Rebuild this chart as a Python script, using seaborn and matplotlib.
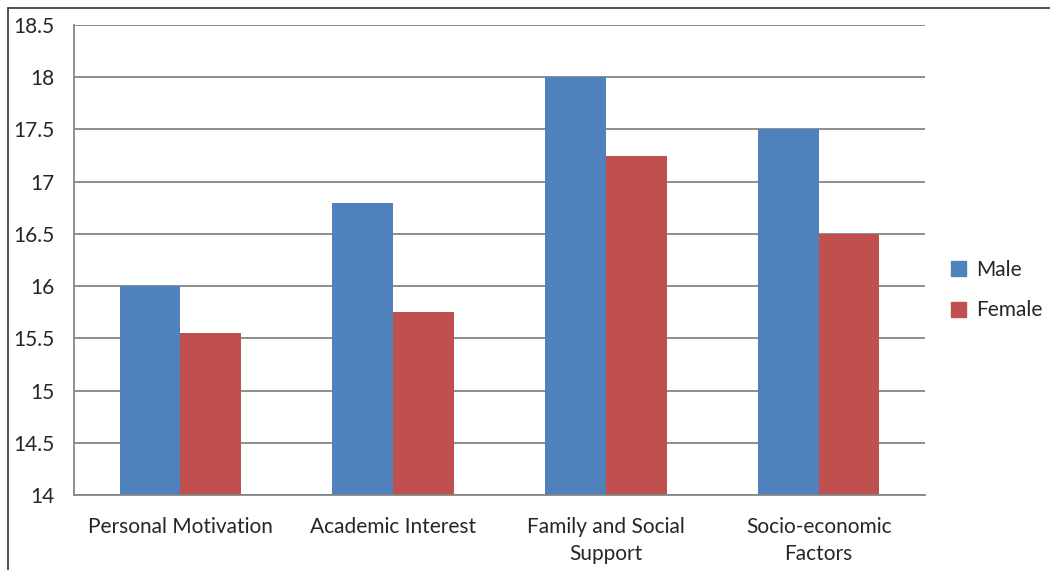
import pandas as pd
import matplotlib
matplotlib.use('Agg')
import matplotlib.pyplot as plt
import seaborn as sns
from matplotlib.patches import Patch

categories = ['Personal Motivation', 'Academic Interest', 'Family and Social\nSupport', 'Socio-economic\nFactors']
genders = ['Male', 'Female']
male = [16.0, 16.8, 18.0, 17.5]
female = [15.55, 15.75, 17.25, 16.5]
y_ticks = [14, 14.5, 15, 15.5, 16, 16.5, 17, 17.5, 18, 18.5]
y_labels = ['14', '14.5', '15', '15.5', '16', '16.5', '17', '17.5', '18', '18.5']

df = pd.DataFrame({
    'category': categories * 2,
    'gender': ['Male'] * 4 + ['Female'] * 4,
    'score': male + female,
})

sns.set_style('white')
plt.rcParams['font.family'] = ['Lato', 'DejaVu Sans']
grey = '#868686'
colors = ['#4F81BD', '#C0504D']

fig = plt.figure(figsize=(10.5, 5.7), dpi=100)
ax = fig.add_axes([74 / 1050, 1 - 495 / 570, (925 - 74) / 1050, (495 - 25) / 570])

sns.barplot(data=df, x='category', y='score', hue='gender', hue_order=genders,
            palette=colors, width=0.57, saturation=1,
            order=categories, ax=ax, legend=False)
for p in ax.patches:
    p.set_linewidth(0)

ax.set_ylim(14, 18.5)
ax.set_xlim(-0.5, 3.5)
ax.set_yticks(y_ticks)
ax.set_yticklabels(y_labels)
ax.set_xlabel('')
ax.set_ylabel('')
ax.set_axisbelow(True)
ax.yaxis.grid(True, color=grey, linewidth=1.3)
ax.xaxis.grid(False)

# category separators as minor ticks on x
ax.set_xticks([-0.5, 0.5, 1.5, 2.5, 3.5], minor=True)
ax.tick_params(axis='x', which='major', length=0, pad=16, labelsize=15)
ax.tick_params(axis='x', which='minor', length=6, width=1.3, color=grey, direction='out')
ax.tick_params(axis='y', length=6, width=1.3, color=grey, direction='out', pad=8, labelsize=15)
for lab in ax.get_xticklabels():
    lab.set_linespacing(1.45)

for s in ['top', 'right']:
    ax.spines[s].set_visible(False)
for s in ['left', 'bottom']:
    ax.spines[s].set_color(grey)
    ax.spines[s].set_linewidth(1.3)

handles = [Patch(color=colors[0], label='Male'), Patch(color=colors[1], label='Female')]
fig.legend(handles=handles, loc='center left', bbox_to_anchor=(932 / 1050, 1 - 290 / 570),
           frameon=False, fontsize=15, handlelength=0.75, handleheight=0.75,
           handletextpad=0.45, labelspacing=1.0)

# outer chart border (top and left edges visible)
fig.add_artist(plt.Line2D([8 / 1050, 1], [1 - 8 / 570, 1 - 8 / 570], color='#333333', linewidth=1.2))
fig.add_artist(plt.Line2D([8 / 1050, 8 / 1050], [0, 1 - 8 / 570], color='#333333', linewidth=1.2))

fig.savefig('out.png', dpi=100, facecolor='white')
